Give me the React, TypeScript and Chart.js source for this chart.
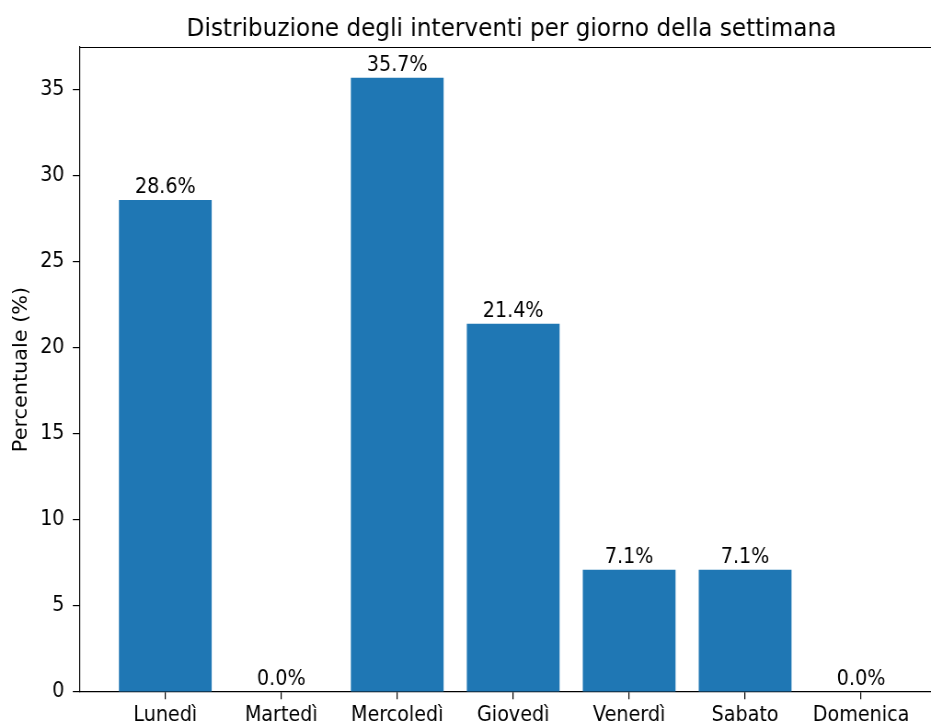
import React, { useEffect, useRef } from "react";
import { Chart, registerables } from "chart.js";

Chart.register(...registerables);

const days = ["Lunedì", "Martedì", "Mercoledì", "Giovedì", "Venerdì", "Sabato", "Domenica"];
const percentages = [28.6, 0.0, 35.7, 21.4, 7.1, 7.1, 0.0];
const yTicks = [0, 5, 10, 15, 20, 25, 30, 35];
const titleText = "Distribuzione degli interventi per giorno della settimana";
const yLabel = "Percentuale (%)";

const FONT = "'DejaVu Sans', sans-serif";
const BAR = "#1f77b4";
const CW = 1012;
const CH = 724;
const VIEW_W = 931;
const X_MIN = -0.74;
const X_MAX_VISIBLE = 6.603;
const TITLE_CX = 556;

export default function App() {
  const ref = useRef<HTMLCanvasElement | null>(null);
  useEffect(() => {
    if (!ref.current) return;
    const overlay = {
      id: "overlay",
      afterDraw(chart: any) {
        const ctx = chart.ctx;
        const a = chart.chartArea;
        ctx.save();
        ctx.strokeStyle = "#000";
        ctx.lineWidth = 1.2;
        ctx.beginPath();
        ctx.moveTo(a.left, a.top + 0.5);
        ctx.lineTo(chart.width, a.top + 0.5);
        ctx.stroke();
        ctx.fillStyle = "#000";
        ctx.font = `25.2px ${FONT}`;
        ctx.textAlign = "center";
        ctx.textBaseline = "alphabetic";
        ctx.fillText(titleText, TITLE_CX, 36);
        ctx.save();
        ctx.translate(23.5, (a.top + a.bottom) / 2);
        ctx.rotate(-Math.PI / 2);
        ctx.font = `20.8px ${FONT}`;
        ctx.textAlign = "center";
        ctx.textBaseline = "middle";
        ctx.fillText(yLabel, 0, 0);
        ctx.restore();
        const meta = chart.getDatasetMeta(0);
        ctx.font = `20.8px ${FONT}`;
        ctx.textAlign = "center";
        ctx.textBaseline = "alphabetic";
        meta.data.forEach((el: any, i: number) => {
          ctx.fillText(percentages[i].toFixed(1) + "%", el.x, el.y - 7);
        });
        ctx.restore();
      },
    };
    const chart = new Chart(ref.current, {
      type: "bar",
      data: {
        datasets: [
          {
            data: percentages.map((v, i) => ({ x: i, y: v })),
            backgroundColor: BAR,
            borderWidth: 0,
            barPercentage: 1,
            categoryPercentage: 0.8,
          },
        ],
      },
      options: {
        responsive: false,
        animation: false,
        layout: { padding: { top: 47, right: 0, left: 0, bottom: 0 } },
        plugins: { legend: { display: false }, tooltip: { enabled: false }, title: { display: false } },
        scales: {
          x: {
            type: "linear",
            offset: false,
            min: X_MIN,
            max: X_MAX_VISIBLE,
            afterBuildTicks: (s: any) => {
              s.ticks = days.map((_, i) => ({ value: i }));
            },
            afterFit: (s: any) => {
              s.height = 32;
              s.paddingLeft = 0;
              s.paddingRight = 0;
            },
            ticks: {
              callback: (v: any) => days[v as number] ?? "",
              color: "#000",
              font: { family: FONT, size: 20.8 },
              padding: 3.5,
              maxRotation: 0,
              autoSkip: false,
            },
            grid: { offset: false, drawOnChartArea: false, drawTicks: true, tickLength: 7.3, tickColor: "#000", lineWidth: 1.2 },
            border: { display: true, color: "#000", width: 1.2 },
          },
          y: {
            min: 0,
            max: 37.485,
            afterBuildTicks: (s: any) => {
              s.ticks = yTicks.map((v) => ({ value: v }));
            },
            afterFit: (s: any) => {
              s.width = 86.4;
            },
            ticks: { color: "#000", font: { family: FONT, size: 20.8 }, padding: 9 },
            grid: { drawOnChartArea: false, drawTicks: true, tickLength: 7.3, tickColor: "#000", lineWidth: 1.2 },
            border: { display: true, color: "#000", width: 1.2 },
          },
        },
      },
      plugins: [overlay],
    } as any);
    return () => chart.destroy();
  }, []);
  return (
    <div style={{ position: "fixed", left: 0, top: 0, width: VIEW_W, height: CH, overflow: "hidden", background: "#fff" }}>
      <canvas
        ref={ref}
        width={CW}
        height={CH}
        style={{ display: "block", width: `${VIEW_W}px`, height: `${CH}px` }}
      />
    </div>
  );
}
